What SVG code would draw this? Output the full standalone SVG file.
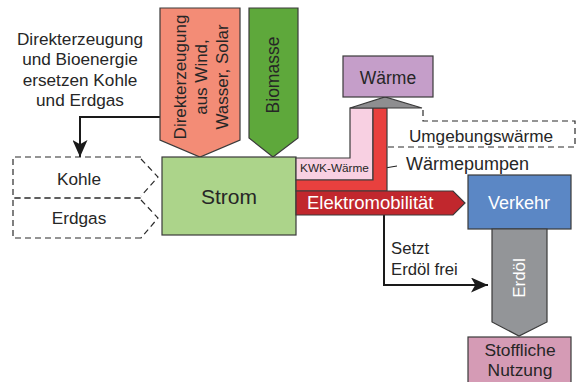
<svg xmlns="http://www.w3.org/2000/svg" width="579" height="382" viewBox="0 0 579 382">
<defs>
<style>
.s{stroke:#3a3a3a;stroke-width:1.2;stroke-linejoin:miter}
.d{fill:none;stroke:#2a2a2a;stroke-width:1.2;stroke-dasharray:6 4}
.t{font-family:"Liberation Sans",Arial,sans-serif;fill:#262626;text-anchor:middle}
.l{font-family:"Liberation Sans",Arial,sans-serif;fill:#262626}
.w{fill:#ffffff}
.ln{fill:none;stroke:#1a1a1a;stroke-width:2}
</style>
<marker id="ah" viewBox="0 0 12 12" refX="12" refY="6" markerWidth="8.5" markerHeight="7.5" orient="auto" markerUnits="strokeWidth" preserveAspectRatio="none">
<path d="M0,0 L12,6 L0,12 L3,6 Z" fill="#1a1a1a"/>
</marker>
</defs>
<rect width="579" height="382" fill="#ffffff"/>

<g id="connectors">
<polyline class="ln" points="160,117 80,117 80,157" marker-end="url(#ah)"/>
<polyline class="ln" points="384,215 384,285 488,285" marker-end="url(#ah)"/>
<line x1="379" y1="169" x2="397" y2="166" stroke="#1a1a1a" stroke-width="1"/>
</g>

<g id="annotation">
<text class="t" font-size="17.2" x="80" y="45">Direkterzeugung</text>
<text class="t" font-size="17.2" x="80" y="65">und Bioenergie</text>
<text class="t" font-size="17.2" x="80" y="86">ersetzen Kohle</text>
<text class="t" font-size="17.2" x="80" y="106">und Erdgas</text>
</g>

<g id="direkterzeugung">
<path class="s" d="M160,8 H240 V140 L200,157 L160,140 Z" fill="#f38c76"/>
<g class="t" font-size="17">
<text transform="translate(186,77) rotate(-90)">Direkterzeugung</text>
<text transform="translate(207,77) rotate(-90)">aus Wind,</text>
<text transform="translate(228,77) rotate(-90)">Wasser, Solar</text>
</g>
</g>

<g id="biomasse">
<path class="s" d="M249,8 H298 V138 L273,157 L249,138 Z" fill="#5ea83b"/>
<text class="t" font-size="17.5" transform="translate(279,75) rotate(-90)">Biomasse</text>
</g>

<g id="kohle">
<path class="d" d="M141,157 H13 V198 H141 M141,159 L158,177 L141,196"/>
<text class="t" font-size="17.2" x="79" y="185">Kohle</text>
</g>

<g id="erdgas">
<path class="d" d="M141,198 H13 V238 H141 M141,200 L158,218 L141,238"/>
<text class="t" font-size="17.2" x="79" y="224">Erdgas</text>
</g>

<g id="strom">
<rect class="s" x="162" y="157" width="134" height="78" fill="#acd48a"/>
<text class="t" font-size="21" x="229" y="204">Strom</text>
</g>

<g id="kwk">
<path class="s" d="M296,158 H350 V108 H373 V180 H296 Z" fill="#f8d0e2"/>
<text class="t" font-size="11.8" x="334.5" y="172">KWK-Wärme</text>
</g>

<g id="waermepumpen">
<path class="s" d="M296,180 H373 V108 H387 V191 H296 Z" fill="#e8403e"/>
<text class="l" font-size="18" x="406" y="170">Wärmepumpen</text>
</g>

<g id="umgebungswaerme">
<path class="d" d="M423,110 V121 H575 V147 H387"/>
<text class="t" font-size="17.2" x="481" y="142">Umgebungswärme</text>
</g>

<g id="waerme">
<path class="s" d="M350,108 L385,97 L422,108 Z" fill="#8e8e90"/>
<rect class="s" x="343" y="56" width="90" height="41" fill="#c59ec9"/>
<text class="t" font-size="17.5" x="388" y="84">Wärme</text>
</g>

<g id="elektromobilitaet">
<path class="s" d="M296,191 H453 L465,203 L453,215 H296 Z" fill="#c1272d"/>
<text class="l w" font-size="18.5" x="307" y="209">Elektromobilität</text>
</g>

<g id="verkehr">
<rect class="s" x="468" y="175" width="103" height="54" fill="#5b87c5"/>
<text class="t w" font-size="18" x="519" y="209">Verkehr</text>
</g>

<g id="erdoel">
<path class="s" d="M492,229 H547 V322 L519,336 L492,322 Z" fill="#939598"/>
<text class="t w" font-size="17" transform="translate(525,278) rotate(-90)">Erdöl</text>
</g>

<g id="stoffliche">
<rect class="s" x="468" y="337" width="103" height="50" fill="#d59bb5"/>
<text class="t" font-size="17.4" x="520" y="356">Stoffliche</text>
<text class="t" font-size="17.4" x="520" y="376">Nutzung</text>
</g>

<g id="setzt">
<text class="l" font-size="16.7" x="391" y="254">Setzt</text>
<text class="l" font-size="16.7" x="391" y="275">Erdöl frei</text>
</g>
</svg>
